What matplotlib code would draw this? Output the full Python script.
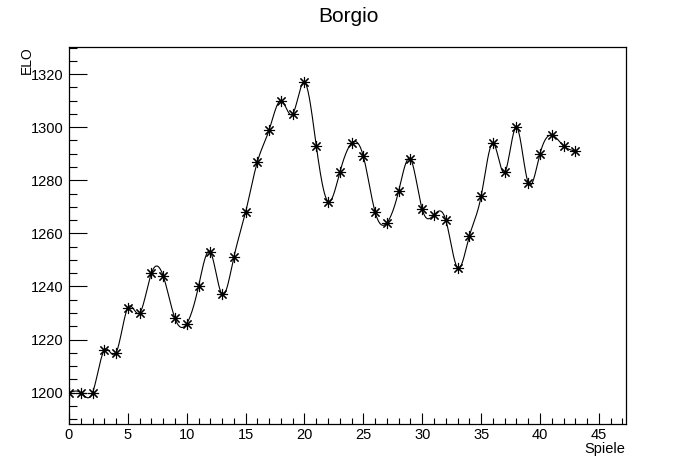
import numpy as np
import matplotlib
matplotlib.use('Agg')
from matplotlib import pyplot as plt
from matplotlib.ticker import MultipleLocator

spiele = list(range(44))
elo = [1200, 1200, 1200, 1216, 1215, 1232, 1230, 1245, 1244, 1228,
       1226, 1240, 1253, 1237, 1251, 1268, 1287, 1299, 1310, 1305,
       1317, 1293, 1272, 1283, 1294, 1289, 1268, 1264, 1276, 1288,
       1269, 1267, 1265, 1247, 1259, 1274, 1294, 1283, 1300, 1279,
       1290, 1297, 1293, 1291]

plt.rcParams['font.family'] = ['Liberation Sans', 'DejaVu Sans']


def spline(x, y, n=20):
    # natuerlicher kubischer spline durch die punkte
    x = np.asarray(x, float)
    y = np.asarray(y, float)
    k = len(x)
    h = np.diff(x)
    A = np.zeros((k, k))
    b = np.zeros(k)
    A[0, 0] = 1
    A[-1, -1] = 1
    for i in range(1, k - 1):
        A[i, i - 1] = h[i - 1]
        A[i, i] = 2 * (h[i - 1] + h[i])
        A[i, i + 1] = h[i]
        b[i] = 3 * ((y[i + 1] - y[i]) / h[i] - (y[i] - y[i - 1]) / h[i - 1])
    c = np.linalg.solve(A, b)
    xs, ys = [], []
    for i in range(k - 1):
        t = np.linspace(0, h[i], n, endpoint=False)
        bb = (y[i + 1] - y[i]) / h[i] - h[i] * (2 * c[i] + c[i + 1]) / 3
        d = (c[i + 1] - c[i]) / (3 * h[i])
        xs.extend(x[i] + t)
        ys.extend(y[i] + bb * t + c[i] * t ** 2 + d * t ** 3)
    xs.append(x[-1])
    ys.append(y[-1])
    return np.array(xs), np.array(ys)


fig = plt.figure(figsize=(6.96, 4.72), dpi=100)
ax = fig.add_axes([0.0991, 0.1017, 0.8003, 0.7987])

sx, sy = spline(spiele, elo)
ax.plot(sx, sy, color='black', lw=0.8)
ax.plot(spiele, elo, ls='none', marker=(8, 2, 0), ms=8, mew=0.8, color='black')

ax.set_xlim(0, 47.3)
ax.set_ylim(1188.2, 1330.2)
ax.xaxis.set_major_locator(MultipleLocator(5))
ax.xaxis.set_minor_locator(MultipleLocator(1))
ax.yaxis.set_major_locator(MultipleLocator(20))
ax.yaxis.set_minor_locator(MultipleLocator(5))

ax.tick_params(axis='x', which='major', direction='in', length=8, width=0.8,
               labelsize=10.5, pad=3, top=False)
ax.tick_params(axis='x', which='minor', direction='in', length=4, width=0.8, top=False)
ax.tick_params(axis='y', which='major', direction='in', length=12.7, width=0.8,
               labelsize=10.5, pad=4, right=False)
ax.tick_params(axis='y', which='minor', direction='in', length=6, width=0.8, right=False)
for s in ax.spines.values():
    s.set_linewidth(0.9)

fig.text(0.5, 0.965, 'Borgio', ha='center', va='center', fontsize=15)
fig.text(34 / 696, 1 - 46 / 472, 'ELO', rotation=90, ha='right', va='top', fontsize=10)
fig.text(625 / 696, 1 - 453 / 472, 'Spiele', ha='right', va='baseline', fontsize=10.5)

fig.savefig('out.png', dpi=100)
